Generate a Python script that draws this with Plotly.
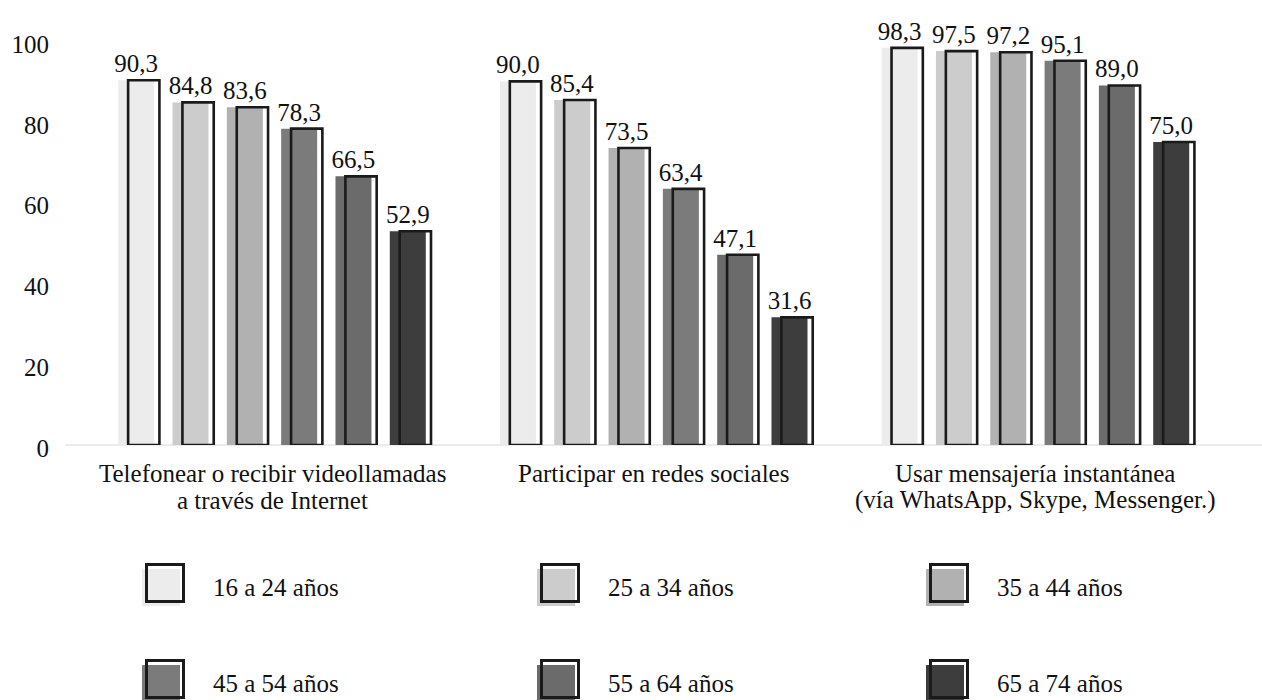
import plotly.graph_objects as go

# Usage of Internet services by age group (%)
groups = [0, 1, 2]
group_lines = [
    ["Telefonear o recibir videollamadas", "a través de Internet"],
    ["Participar en redes sociales"],
    ["Usar mensajería instantánea", "(vía WhatsApp, Skype, Messenger.)"],
]
age_groups = ["16 a 24 años", "25 a 34 años", "35 a 44 años",
              "45 a 54 años", "55 a 64 años", "65 a 74 años"]
v_16_24 = [90.3, 90.0, 98.3]
v_25_34 = [84.8, 85.4, 97.5]
v_35_44 = [83.6, 73.5, 97.2]
v_45_54 = [78.3, 63.4, 95.1]
v_55_64 = [66.5, 47.1, 89.0]
v_65_74 = [52.9, 31.6, 75.0]
series_values = [v_16_24, v_25_34, v_35_44, v_45_54, v_55_64, v_65_74]
fills = ["#ececec", "#cccccc", "#b1b1b1", "#7b7b7b", "#6b6b6b", "#3d3d3d"]
y_ticks = [0, 20, 40, 60, 80, 100]

FONT = "Liberation Serif, Times New Roman, serif"
FS = 25
EDGE = "#1a1a1a"
INK = "#111111"

# bar geometry in category units
PITCH = 0.1423
FILL_W = 0.0943
OUT_W = 0.082
OUT_SHIFT = 0.0198

fig = go.Figure()
n = len(series_values)
for j, (name, vals, col) in enumerate(zip(age_groups, series_values, fills)):
    centre = (j - (n - 1) / 2) * PITCH
    labels = [f"{v:.1f}".replace(".", ",") for v in vals]
    # solid shaded bar
    fig.add_trace(go.Bar(
        x=groups, y=vals, name=name, width=FILL_W, offset=centre - FILL_W / 2,
        marker=dict(color=col, line=dict(width=0)),
        text=labels, textposition="outside", constraintext="none",
        textfont=dict(family=FONT, size=FS, color=INK),
        cliponaxis=False, showlegend=False, hoverinfo="skip",
    ))
    # outlined frame shifted to the right
    fig.add_trace(go.Bar(
        x=groups, y=vals, name=name, width=OUT_W,
        offset=centre + OUT_SHIFT - OUT_W / 2,
        marker=dict(color="rgba(0,0,0,0)", line=dict(color=EDGE, width=2.6)),
        cliponaxis=False, showlegend=False, hoverinfo="skip",
    ))

# category labels under each group
annotations = []
for g, lines in zip(groups, group_lines):
    for k, line in enumerate(lines):
        annotations.append(dict(
            x=g, xref="x", y=0, yref="y", yanchor="middle",
            yshift=-28 - 27 * k, text=line, showarrow=False,
            font=dict(family=FONT, size=FS, color=INK),
        ))

# custom legend: 3 columns x 2 rows
W, H = 1262, 700
ML, MR, MT, MB = 65, 0, 41, 255
PW, PH = W - ML - MR, H - MT - MB


def px(xp):
    return (xp - ML) / PW


def py(yp):
    return (H - MB - yp) / PH


shapes = []
leg_cols = [165, 560, 949]
leg_rows = [583, 679]
half = 18.5
for j, (name, col) in enumerate(zip(age_groups, fills)):
    cx = leg_cols[j % 3]
    cy = leg_rows[j // 3]
    shapes.append(dict(
        type="rect", xref="paper", yref="paper",
        x0=px(cx - 23), x1=px(cx + 15), y0=py(cy - 14), y1=py(cy + 23),
        fillcolor=col, line=dict(width=0), layer="above",
    ))
    shapes.append(dict(
        type="rect", xref="paper", yref="paper",
        x0=px(cx - half), x1=px(cx + half), y0=py(cy - half), y1=py(cy + half),
        fillcolor="rgba(0,0,0,0)", line=dict(color=EDGE, width=3), layer="above",
    ))
    annotations.append(dict(
        x=px(cx + 46), xref="paper", y=py(cy + 4), yref="paper",
        xanchor="left", yanchor="middle", text=name, showarrow=False,
        font=dict(family=FONT, size=FS, color=INK),
    ))

fig.update_layout(
    width=W, height=H,
    margin=dict(l=ML, r=MR, t=MT, b=MB),
    paper_bgcolor="white", plot_bgcolor="white",
    barmode="overlay",
    shapes=shapes, annotations=annotations,
    font=dict(family=FONT, color=INK),
    xaxis=dict(range=[-0.5423, 2.5936], showticklabels=False, showgrid=False,
               zeroline=False, showline=False, fixedrange=True),
    yaxis=dict(range=[0, 100], tickvals=y_ticks, showgrid=False,
               zeroline=True, zerolinecolor="#ebebeb", zerolinewidth=2,
               showline=False, ticks="", ticklabelstandoff=15,
               ticklabelshift=3,
               tickfont=dict(family=FONT, size=FS, color=INK)),
)

fig.write_html("out.html")
